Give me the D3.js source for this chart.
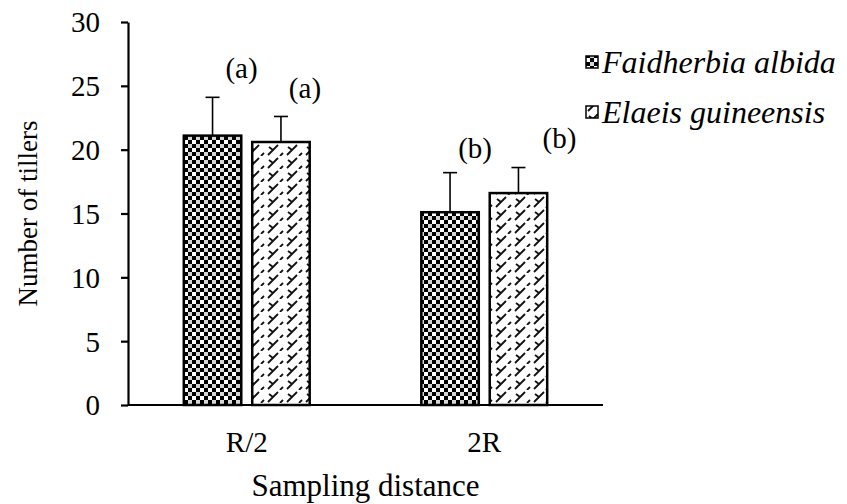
<!DOCTYPE html>
<html lang="en">
<head>
  <meta charset="utf-8">
  <title>Number of tillers</title>
  <script src="https://d3js.org/d3.v7.min.js"></script>
  <style>
    body { margin: 0; background: #fff; }
    svg text { font-family: "Liberation Serif", "Times New Roman", serif !important; fill: #000; }
    .axis path, .axis line { stroke: #000; stroke-width: 2.2; }
  </style>
</head>
<body>
<script>
  // chart data
  const distances = ["R/2", "2R"];
  const species = ["Faidherbia albida", "Elaeis guineensis"];
  const faidherbia = [21.1, 15.1];
  const faidherbiaErr = [3.0, 3.1];
  const elaeis = [20.6, 16.6];
  const elaeisErr = [2.0, 2.0];
  const faidherbiaLetters = ["(a)", "(b)"];
  const elaeisLetters = ["(a)", "(b)"];
  const yTicks = [0, 5, 10, 15, 20, 25, 30];

  const width = 847, height = 504;
  const margin = {left: 128, right: 244, top: 22, bottom: 99};

  // label nudges (px) for the significance letters, same order as rows
  const letterNudge = [[29, 19], [24, 18], [25, 15], [41, 20]];

  const rows = [];
  distances.forEach((d, i) => {
    rows.push({dist: d, sp: species[0], v: faidherbia[i], e: faidherbiaErr[i], lab: faidherbiaLetters[i]});
    rows.push({dist: d, sp: species[1], v: elaeis[i], e: elaeisErr[i], lab: elaeisLetters[i]});
  });

  const svg = d3.select("body").append("svg")
    .attr("width", width)
    .attr("height", height);

  // fill patterns
  const defs = svg.append("defs");
  const checker = defs.append("pattern")
    .attr("id", "pat0")
    .attr("patternUnits", "userSpaceOnUse")
    .attr("width", 8).attr("height", 8);
  checker.append("rect").attr("width", 8).attr("height", 8).attr("fill", "#fff");
  checker.append("rect").attr("x", 0).attr("y", 0).attr("width", 4).attr("height", 4).attr("fill", "#000");
  checker.append("rect").attr("x", 4).attr("y", 4).attr("width", 4).attr("height", 4).attr("fill", "#000");
  checker.append("rect").attr("x", 4).attr("y", 0).attr("width", 4).attr("height", 4).attr("fill", "#888").attr("opacity", 0.35);

  const divot = defs.append("pattern")
    .attr("id", "pat1")
    .attr("patternUnits", "userSpaceOnUse")
    .attr("width", 19).attr("height", 13);
  divot.append("rect").attr("width", 19).attr("height", 13).attr("fill", "#fff");
  divot.append("path")
    .attr("d", "M2,12 L12,2 M7,7 L3,4 M14,13 L17,10")
    .attr("stroke", "#111").attr("stroke-width", 1.8).attr("fill", "none");

  const fills = d3.scaleOrdinal().domain(species).range(["url(#pat0)", "url(#pat1)"]);

  const x0 = d3.scaleBand()
    .domain(distances)
    .range([margin.left, width - margin.right])
    .paddingInner(0.47)
    .paddingOuter(0.235);
  const x1 = d3.scaleBand()
    .domain(species)
    .range([0, x0.bandwidth()])
    .paddingInner(0.16);
  const y = d3.scaleLinear()
    .domain([0, 30])
    .range([height - margin.bottom, margin.top]);

  // bars
  svg.append("g").selectAll("rect")
    .data(rows)
    .join("rect")
    .attr("x", d => x0(d.dist) + x1(d.sp))
    .attr("y", d => y(d.v))
    .attr("width", x1.bandwidth())
    .attr("height", d => y(0) - y(d.v))
    .attr("fill", d => fills(d.sp))
    .attr("stroke", "#000")
    .attr("stroke-width", 2.5);

  // error bars (upper only)
  const eb = svg.append("g").attr("stroke", "#000").attr("stroke-width", 1.6);
  rows.forEach(d => {
    const cx = x0(d.dist) + x1(d.sp) + x1.bandwidth() / 2;
    eb.append("line").attr("x1", cx).attr("x2", cx).attr("y1", y(d.v)).attr("y2", y(d.v + d.e));
    eb.append("line").attr("x1", cx - 7).attr("x2", cx + 7).attr("y1", y(d.v + d.e)).attr("y2", y(d.v + d.e));
  });

  // significance letters
  svg.append("g").selectAll("text")
    .data(rows)
    .join("text")
    .attr("x", (d, i) => x0(d.dist) + x1(d.sp) + x1.bandwidth() / 2 + letterNudge[i][0])
    .attr("y", (d, i) => y(d.v + d.e) - letterNudge[i][1])
    .attr("text-anchor", "middle")
    .style("font-size", "29px")
    .text(d => d.lab);

  // axes
  const yAxis = svg.append("g")
    .attr("class", "axis")
    .attr("transform", `translate(${margin.left},0)`)
    .call(d3.axisLeft(y).tickValues(yTicks).tickSize(7).tickPadding(21).tickSizeOuter(0));
  yAxis.selectAll("text").style("font-size", "29px").attr("dy", "0.34em");

  const xAxis = svg.append("g")
    .attr("class", "axis")
    .attr("transform", `translate(0,${y(0)})`)
    .call(d3.axisBottom(x0).tickSize(0).tickPadding(26).tickSizeOuter(0));
  xAxis.selectAll("text").style("font-size", "29px");
  xAxis.select(".domain").attr("d", `M${margin.left},0H${width - margin.right}`);

  // axis titles
  svg.append("text")
    .attr("transform", `translate(37,${y(15)}) rotate(-90)`)
    .attr("text-anchor", "middle")
    .style("font-size", "27px")
    .text("Number of tillers");
  svg.append("text")
    .attr("x", (margin.left + width - margin.right) / 2)
    .attr("y", 496)
    .attr("text-anchor", "middle")
    .style("font-size", "31px")
    .text("Sampling distance");

  // legend
  const legend = svg.append("g").selectAll("g")
    .data(species)
    .join("g")
    .attr("transform", (d, i) => `translate(586,${62 + i * 50})`);
  legend.append("rect")
    .attr("x", 0).attr("y", -6)
    .attr("width", 12).attr("height", 12)
    .attr("fill", d => fills(d))
    .attr("stroke", "#000")
    .attr("stroke-width", 1.5);
  legend.append("text")
    .attr("x", 16)
    .attr("y", 0)
    .attr("dy", "0.33em")
    .style("font-size", "32px")
    .style("font-style", "italic")
    .text(d => d);
</script>
</body>
</html>
